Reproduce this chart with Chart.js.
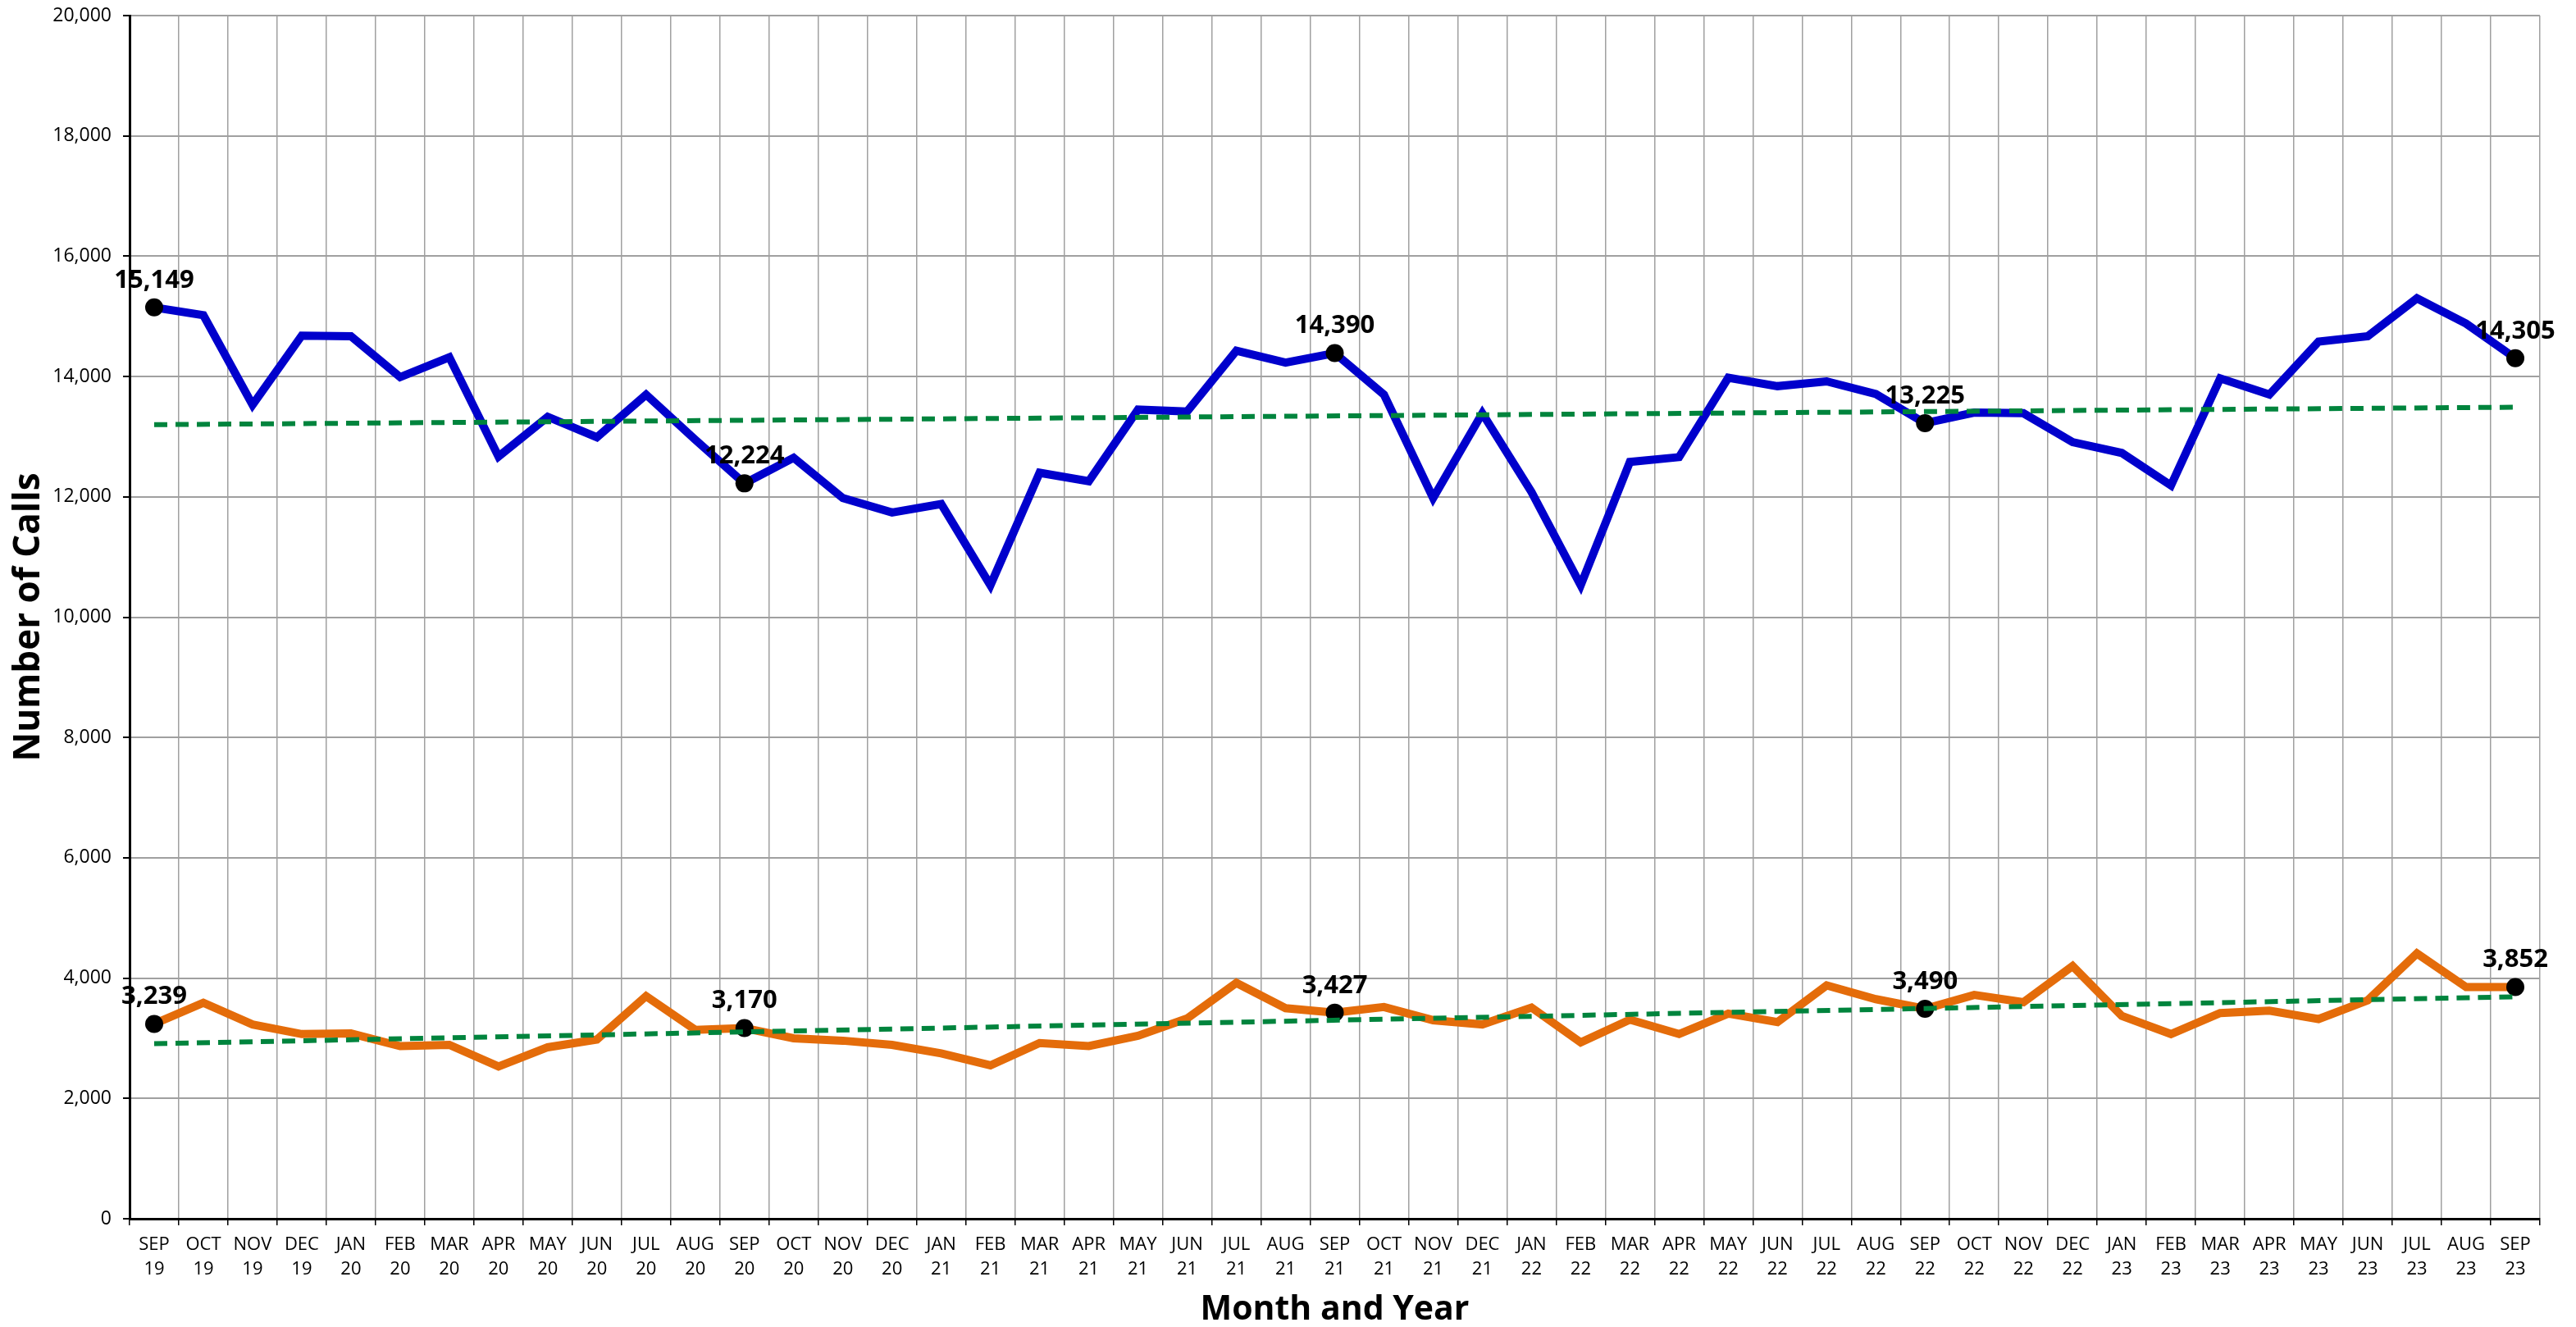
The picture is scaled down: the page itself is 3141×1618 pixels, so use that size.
<!DOCTYPE html>
<html>
<head>
<meta charset="utf-8">
<script src="https://cdn.jsdelivr.net/npm/chart.js@4.4.1/dist/chart.umd.min.js"></script>
<style>
  html, body { margin: 0; padding: 0; background: #fff; }
  canvas { display: block; }
</style>
</head>
<body>
<canvas id="chart" width="3141" height="1618"></canvas>
<script>
const months = [
  'SEP 19', 'OCT 19', 'NOV 19', 'DEC 19',
  'JAN 20', 'FEB 20', 'MAR 20', 'APR 20', 'MAY 20', 'JUN 20', 'JUL 20', 'AUG 20', 'SEP 20', 'OCT 20', 'NOV 20', 'DEC 20',
  'JAN 21', 'FEB 21', 'MAR 21', 'APR 21', 'MAY 21', 'JUN 21', 'JUL 21', 'AUG 21', 'SEP 21', 'OCT 21', 'NOV 21', 'DEC 21',
  'JAN 22', 'FEB 22', 'MAR 22', 'APR 22', 'MAY 22', 'JUN 22', 'JUL 22', 'AUG 22', 'SEP 22', 'OCT 22', 'NOV 22', 'DEC 22',
  'JAN 23', 'FEB 23', 'MAR 23', 'APR 23', 'MAY 23', 'JUN 23', 'JUL 23', 'AUG 23', 'SEP 23'
];

// blue series
const callsBlue = [
  15149, 15020, 13530, 14680,
  14670, 13990, 14320, 12670, 13330, 12990, 13700, 12950, 12224, 12650, 11980, 11740,
  11880, 10530, 12400, 12260, 13450, 13420, 14430, 14230, 14390, 13700, 11980, 13390,
  12080, 10530, 12580, 12660, 13980, 13840, 13920, 13710, 13225, 13400, 13390, 12910,
  12730, 12190, 13970, 13700, 14580, 14670, 15300, 14880, 14305
];

// orange series
const callsOrange = [
  3239, 3590, 3230, 3070,
  3080, 2870, 2890, 2530, 2850, 2980, 3700, 3140, 3170, 3000, 2960, 2890,
  2750, 2550, 2920, 2870, 3040, 3330, 3920, 3500, 3427, 3520, 3300, 3230,
  3510, 2930, 3310, 3070, 3410, 3270, 3880, 3650, 3490, 3720, 3600, 4200,
  3370, 3070, 3420, 3460, 3320, 3630, 4410, 3850, 3852
];

// trend line ends (first and last month)
const trendBlue = [13200, 13490];
const trendOrange = [2910, 3690];

// months with a marker and value label
const labeledIdx = [0, 12, 24, 36, 48];

const yTicks = { min: 0, max: 20000, step: 2000 };

const FONT = "'Open Sans', sans-serif";

function trendData(ends) {
  const d = months.map(() => null);
  d[0] = ends[0];
  d[d.length - 1] = ends[1];
  return d;
}

const valueLabels = {
  id: 'valueLabels',
  afterDatasetsDraw(chart) {
    const ctx = chart.ctx;
    ctx.save();
    ctx.font = 'bold 31px ' + FONT;
    ctx.fillStyle = '#000';
    ctx.textAlign = 'center';
    ctx.textBaseline = 'alphabetic';
    chart.data.datasets.forEach((ds, i) => {
      if (!ds.showLabels) return;
      const meta = chart.getDatasetMeta(i);
      labeledIdx.forEach(j => {
        const pt = meta.data[j];
        ctx.fillText(ds.data[j].toLocaleString('en-US'), pt.x, pt.y - 24);
      });
    });
    ctx.restore();
  }
};

const markerRadius = c => labeledIdx.includes(c.dataIndex) ? 11 : 0;

new Chart(document.getElementById('chart'), {
  type: 'line',
  data: {
    labels: months.map(m => m.split(' ')),
    datasets: [
      {
        label: 'trend blue',
        data: trendData(trendBlue),
        borderColor: '#00843d',
        borderWidth: 6,
        borderDash: [16, 10],
        pointRadius: 0,
        spanGaps: true,
        order: 0
      },
      {
        label: 'trend orange',
        data: trendData(trendOrange),
        borderColor: '#00843d',
        borderWidth: 6,
        borderDash: [16, 10],
        pointRadius: 0,
        spanGaps: true,
        order: 0
      },
      {
        label: 'Calls',
        data: callsBlue,
        borderColor: '#0000cc',
        borderWidth: 10,
        pointRadius: markerRadius,
        pointBackgroundColor: '#000',
        pointBorderColor: '#000',
        pointBorderWidth: 0,
        showLabels: true,
        order: 1
      },
      {
        label: 'Calls 2',
        data: callsOrange,
        borderColor: '#e46c0a',
        borderWidth: 10,
        pointRadius: markerRadius,
        pointBackgroundColor: '#000',
        pointBorderColor: '#000',
        pointBorderWidth: 0,
        showLabels: true,
        order: 1
      }
    ]
  },
  options: {
    responsive: false,
    animation: false,
    devicePixelRatio: 1,
    layout: { padding: { top: 19, right: 44, left: 0, bottom: 0 } },
    plugins: {
      legend: { display: false },
      tooltip: { enabled: false }
    },
    scales: {
      x: {
        offset: true,
        grid: { offset: true, color: '#a0a0a0', lineWidth: 1.5, tickLength: 8, tickColor: '#000' },
        border: { color: '#000', width: 3 },
        ticks: {
          color: '#000',
          font: { family: FONT, size: 22, lineHeight: 1.4 },
          padding: 8,
          maxRotation: 0,
          autoSkip: false
        },
        title: {
          display: true,
          text: 'Month and Year',
          color: '#000',
          font: { family: FONT, size: 41, weight: 'bold', lineHeight: 1.0 },
          padding: { top: 0, bottom: 0 }
        },
        afterFit(scale) { scale.height = 132; }
      },
      y: {
        min: yTicks.min,
        max: yTicks.max,
        grid: { color: '#a0a0a0', lineWidth: 2, tickLength: 8, tickColor: '#000' },
        border: { color: '#000', width: 3 },
        ticks: {
          stepSize: yTicks.step,
          color: '#000',
          font: { family: FONT, size: 23 },
          padding: 14,
          callback: v => v.toLocaleString('en-US')
        },
        title: {
          display: true,
          text: 'Number of Calls',
          color: '#000',
          font: { family: FONT, size: 44, weight: 'bold', lineHeight: 1.0 },
          padding: { top: 13, bottom: 0 }
        },
        afterFit(scale) {
          scale.width = 158;
          scale.paddingTop = 0;
          scale.paddingBottom = 0;
        }
      }
    }
  },
  plugins: [valueLabels]
});
</script>
</body>
</html>
